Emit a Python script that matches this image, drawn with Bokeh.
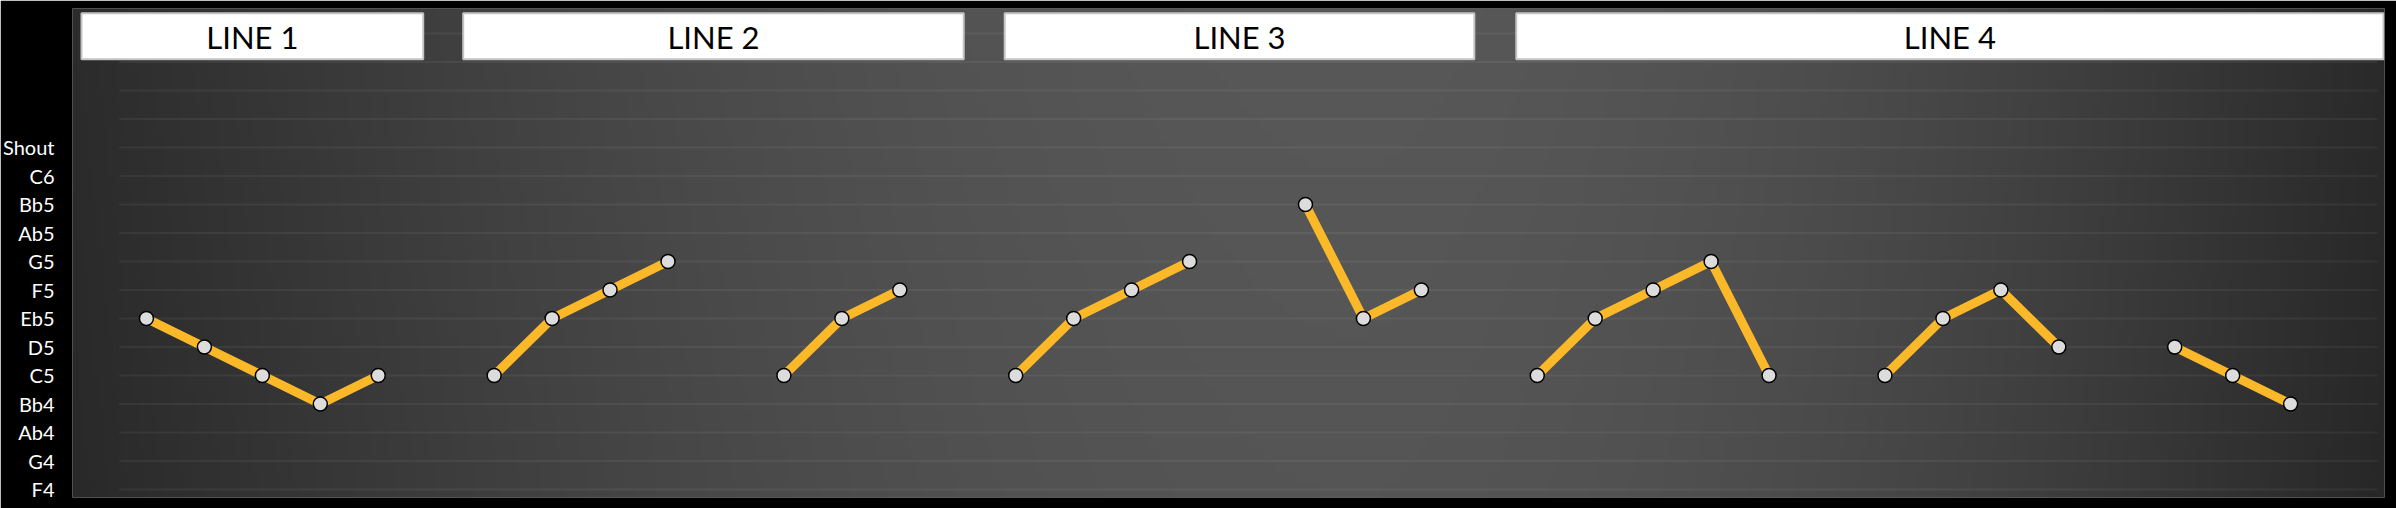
import numpy as np
from bokeh.plotting import figure
from bokeh.models import Range1d, FixedTicker
from bokeh.core.properties import value
from bokeh.embed import file_html
from bokeh.resources import INLINE

# ---------------- data ----------------
pitch_labels = ["F4", "G4", "Ab4", "Bb4", "C5", "D5", "Eb5", "F5", "G5", "Ab5", "Bb5", "C6", "Shout"]
header_labels = ["LINE 1", "LINE 2", "LINE 3", "LINE 4"]

line1_a_x = [0, 1, 2, 3, 4]
line1_a = ["Eb5", "D5", "C5", "Bb4", "C5"]
line2_a_x = [6, 7, 8, 9]
line2_a = ["C5", "Eb5", "F5", "G5"]
line2_b_x = [11, 12, 13]
line2_b = ["C5", "Eb5", "F5"]
line3_a_x = [15, 16, 17, 18]
line3_a = ["C5", "Eb5", "F5", "G5"]
line3_b_x = [20, 21, 22]
line3_b = ["Bb5", "Eb5", "F5"]
line4_a_x = [24, 25, 26, 27, 28]
line4_a = ["C5", "Eb5", "F5", "G5", "C5"]
line4_b_x = [30, 31, 32, 33]
line4_b = ["C5", "Eb5", "F5", "D5"]
line4_c_x = [35, 36, 37]
line4_c = ["D5", "C5", "Bb4"]

phrases = [
    (line1_a_x, line1_a), (line2_a_x, line2_a), (line2_b_x, line2_b),
    (line3_a_x, line3_a), (line3_b_x, line3_b),
    (line4_a_x, line4_a), (line4_b_x, line4_b), (line4_c_x, line4_c),
]

# ---------------- layout ----------------
X0, X1 = -1.276, 38.62
Y0, Y1 = -0.281, 16.877
FONT = "Lato"

p = figure(width=2396, height=508, x_range=Range1d(X0, X1), y_range=Range1d(Y0, Y1),
           output_backend="svg", toolbar_location=None,
           min_border_left=70, min_border_right=12, min_border_top=8, min_border_bottom=11,
           background_fill_color="#3c3c3c", border_fill_color="black",
           outline_line_color=None)
p.xaxis.visible = False
p.grid.visible = False

yax = p.yaxis[0]
yax.ticker = FixedTicker(ticks=list(range(len(pitch_labels))))
yax.major_label_overrides = {i: lab for i, lab in enumerate(pitch_labels)}
yax.axis_line_color = None
yax.major_tick_line_color = None
yax.minor_tick_line_color = None
yax.major_label_standoff = 12
yax.major_label_text_color = "white"
yax.major_label_text_font = FONT
yax.major_label_text_font_size = "20px"

# background gradient (lighter towards centre-right, darker at the edges)
nx, ny = 460, 40
frame_px = 2314.0
cols = (np.arange(nx) + 0.5) / nx * frame_px + 70.0
peak_x = 1350.0
d = np.where(cols < peak_x, (peak_x - cols) / (peak_x - 70.0), (cols - peak_x) / (2384.0 - peak_x))
edge = np.where(cols < peak_x, 44.0, 42.0)
v = edge + (88.0 - edge) * np.cos(np.pi / 2 * np.clip(d, 0, 1))
rows = (np.arange(ny) + 0.5) / ny
vv = v[None, :] - 3.0 * (1 - rows[:, None])
img = np.empty((ny, nx), dtype=np.uint32)
view = img.view(dtype=np.uint8).reshape((ny, nx, 4))
g = np.clip(vv, 0, 255).astype(np.uint8)
view[:, :, 0] = g
view[:, :, 1] = g
view[:, :, 2] = g
view[:, :, 3] = 255
p.image_rgba(image=[img], x=X0, y=Y0, dw=X1 - X0, dh=Y1 - Y0)

# horizontal grid lines
grid_levels = list(range(0, 17))
p.segment(x0=[-0.47] * len(grid_levels), x1=[38.5] * len(grid_levels),
          y0=grid_levels, y1=grid_levels, line_color="white", line_alpha=0.055, line_width=2)

# header boxes
hdr_left = [-1.121, 5.466, 14.81, 23.638]
hdr_right = [4.776, 14.103, 22.914, 38.603]
hdr_bottom, hdr_top = 15.1, 16.71
p.quad(left=hdr_left, right=hdr_right, bottom=[hdr_bottom] * 4, top=[hdr_top] * 4,
       fill_color="white", line_color="#c4c4c4", line_width=2)
p.text(x=[(a + b) / 2 for a, b in zip(hdr_left, hdr_right)], y=[(hdr_bottom + hdr_top) / 2 - 0.02] * 4,
       text=header_labels, text_align="center", text_baseline="middle",
       text_font=value(FONT), text_font_size="31px", text_color="black")

# pitch lines
for xs, notes in phrases:
    ys = [pitch_labels.index(n) for n in notes]
    p.line(xs, ys, line_color="#FBB829", line_width=9, line_join="round")
    p.scatter(xs, ys, size=14, fill_color="#DCDCDC", line_color="black", line_width=1.5)

html = file_html(p, INLINE)
html = html.replace("<body>", '<body style="background:#000000;">', 1)
open("out.html", "w").write(html)
